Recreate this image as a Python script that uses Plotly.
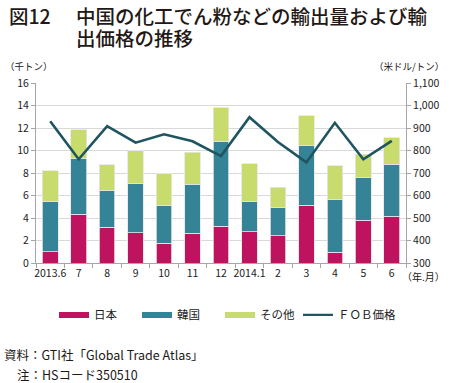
import plotly.graph_objects as go

months = ["2013.6", "7", "8", "9", "10", "11", "12", "2014.1", "2", "3", "4", "5", "6"]
japan = [1.0, 4.35, 3.2, 2.7, 1.75, 2.65, 3.25, 2.78, 2.43, 5.12, 0.95, 3.79, 4.14]
korea = [4.5, 4.95, 3.25, 4.4, 3.4, 4.35, 7.57, 2.66, 2.54, 5.35, 4.73, 3.81, 4.65]
others = [2.7, 2.55, 2.3, 2.9, 2.8, 2.85, 3.0, 3.38, 1.75, 2.63, 2.96, 2.07, 2.33]
fob = [930, 761, 908, 835, 872, 841, 775, 948, 838, 747, 923, 761, 843]

C_JP = "#C0135F"
C_KR = "#348396"
C_OT = "#C8DC6E"
C_LN = "#1F5560"
FONT = "Noto Sans CJK JP"

W, H = 450, 383
L, R, T, B = 36, 406, 82.7, 263
def px(x):
    return (x - L) / (R - L)
def py(y):
    return (B - y) / (B - T)

fig = go.Figure()
edge = dict(color="#e6e6e6", width=0.8)
fig.add_trace(go.Bar(x=months, y=japan, marker=dict(color=C_JP, line=edge), showlegend=False))
fig.add_trace(go.Bar(x=months, y=korea, marker=dict(color=C_KR, line=edge), showlegend=False))
fig.add_trace(go.Bar(x=months, y=others, marker=dict(color=C_OT, line=edge), showlegend=False))
fig.add_trace(go.Scatter(x=months, y=fob, yaxis="y2", mode="lines",
                         line=dict(color=C_LN, width=2.6), showlegend=False))

# legend proxies
for name, col, w, lg in [("日本", C_JP, 6, "legend"), ("韓国", C_KR, 6, "legend"),
                         ("その他", C_OT, 6, "legend"), ("ＦＯＢ価格", C_LN, 2.2, "legend2")]:
    fig.add_trace(go.Scatter(x=[None], y=[None], mode="lines", name=name, legend=lg,
                             line=dict(color=col, width=w)))

tickfont = dict(family=FONT, size=10.5, color="#222")
legfont = dict(family=FONT, size=11.5, color="#222")
fig.update_layout(
    width=W, height=H,
    margin=dict(l=L, r=W - R, t=T, b=H - B, autoexpand=False),
    paper_bgcolor="white", plot_bgcolor="white",
    barmode="stack", bargap=0.45,
    font=dict(family=FONT, color="#222"),
    xaxis=dict(type="category", showline=True, linecolor="#a6a6a6", linewidth=1,
               ticks="outside", tickson="boundaries", ticklen=4, tickcolor="#a6a6a6",
               tickfont=tickfont, showgrid=False, tickangle=0, automargin=False),
    yaxis=dict(range=[0, 16], dtick=2, showline=True, linecolor="#a6a6a6",
               ticks="outside", ticklen=4, tickcolor="#a6a6a6", automargin=False,
               gridcolor="#d9d9d9", gridwidth=1, tickfont=tickfont, zeroline=False),
    yaxis2=dict(range=[300, 1100], dtick=100, overlaying="y", side="right",
                showline=True, linecolor="#a6a6a6", ticks="outside", ticklen=4,
                tickcolor="#a6a6a6", tickformat=",", showgrid=False, automargin=False,
                tickfont=tickfont, zeroline=False),
    legend=dict(orientation="h", x=px(54), xanchor="left", y=py(315), yanchor="middle",
                entrywidth=38, itemwidth=30, font=legfont,
                traceorder="normal", bgcolor="rgba(0,0,0,0)"),
    legend2=dict(orientation="h", x=px(298), xanchor="left", y=py(315), yanchor="middle",
                 itemwidth=30, font=legfont, bgcolor="rgba(0,0,0,0)"),
)

ann = [
    dict(text="図12", x=px(7), y=py(15), size=19.5, xa="left", w=500),
    dict(text="中国の化工でん粉などの輸出量および輸", x=px(74), y=py(15), size=19.5, xa="left", w=500),
    dict(text="出価格の推移", x=px(74), y=py(37.5), size=19.5, xa="left", w=500),
    dict(text="（千トン）", x=px(3), y=py(66), size=9.5, xa="left", w="normal"),
    dict(text="（米ドル/トン）", x=px(446), y=py(66), size=9.5, xa="right", w="normal"),
    dict(text="（年.月）", x=px(447), y=py(277), size=10, xa="right", w="normal"),
    dict(text="資料：GTI社「Global Trade Atlas」", x=px(2), y=py(355), size=12.5, xa="left", w="normal"),
    dict(text="注：HSコード350510", x=px(15), y=py(374.5), size=12.5, xa="left", w="normal"),
]
for a in ann:
    fig.add_annotation(text=a["text"], x=a["x"], y=a["y"], xref="paper", yref="paper",
                       xanchor=a["xa"], yanchor="middle", showarrow=False, align="left",
                       font=dict(family=FONT, size=a["size"], color="#231815", weight=a["w"]))

fig.write_html("out.html", config={"displayModeBar": False},
               post_script="document.body.style.margin='0';document.body.style.overflow='hidden';")
